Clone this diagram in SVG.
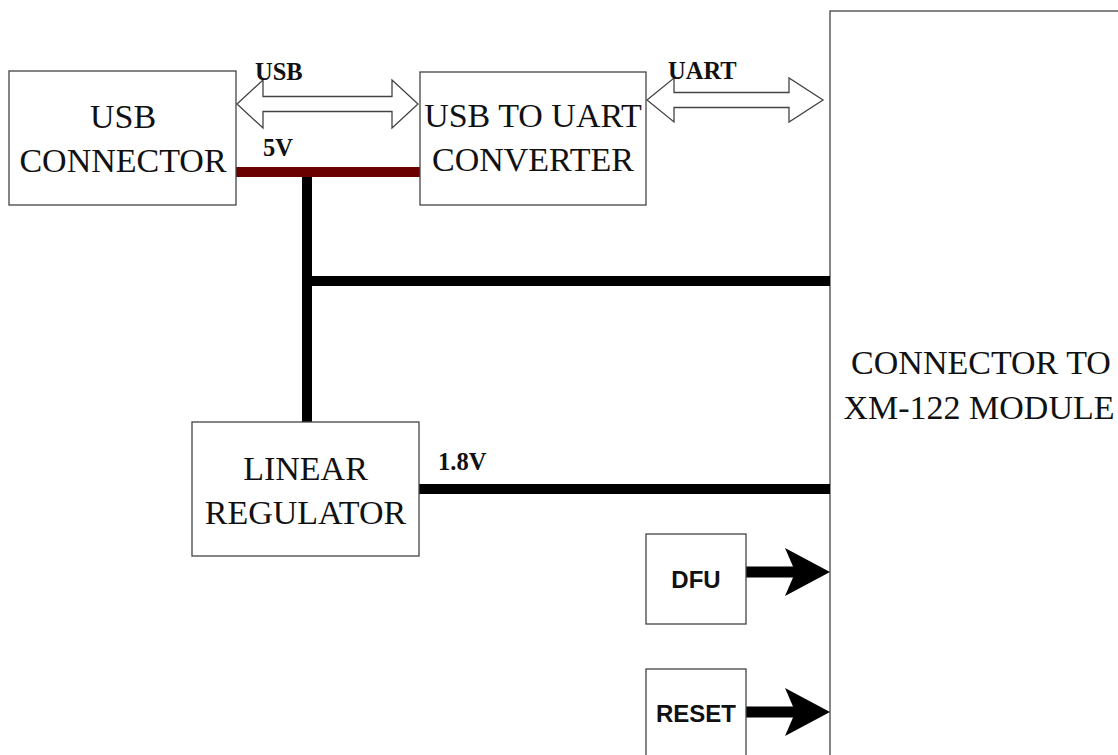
<svg xmlns="http://www.w3.org/2000/svg" width="1118" height="755" viewBox="0 0 1118 755">
<style>
.box{fill:#fff;stroke:#444;stroke-width:1.3}
.bt{font-family:"Liberation Serif",serif;font-size:34px;fill:#111;text-anchor:middle}
.lbl{font-family:"Liberation Serif",serif;font-size:24.5px;font-weight:bold;fill:#111}
.st{font-family:"Liberation Sans",sans-serif;font-size:24px;font-weight:bold;fill:#111;text-anchor:middle}
.dbl{fill:#fff;stroke:#444;stroke-width:1.3}
.pw{stroke:#000;stroke-width:10;fill:none}
</style>
<rect width="1118" height="755" fill="#fff"/>
<g id="module">
<rect class="box" x="830" y="11" width="320" height="800"/>
<text class="bt" x="981" y="374">CONNECTOR TO</text>
<text class="bt" x="979" y="419">XM-122 MODULE</text>
</g>
<g id="connectors">
<line x1="236" y1="172" x2="420" y2="172" stroke="#6b0000" stroke-width="10"/>
<line class="pw" x1="307" y1="177" x2="307" y2="422"/>
<line class="pw" x1="302" y1="281" x2="830" y2="281"/>
<line class="pw" x1="419" y1="489" x2="830" y2="489"/>
<path class="dbl" d="M237,104 L263,80 L263,96.5 L392,96.5 L392,80 L418,104 L392,128 L392,111.5 L263,111.5 L263,128 Z"/>
<path class="dbl" d="M647,100 L674,78 L674,92.5 L789,92.5 L789,78 L823,100 L789,122 L789,107.5 L674,107.5 L674,122 Z"/>
<path d="M746,566.5 L793,566.5 L785,548 L830,572 L785,596 L793,577.5 L746,577.5 Z" fill="#000"/>
<path d="M746,706.5 L793,706.5 L785,688 L830,712 L785,736 L793,717.5 L746,717.5 Z" fill="#000"/>
<text class="lbl" x="255" y="80">USB</text>
<text class="lbl" x="668" y="79">UART</text>
<text class="lbl" x="263" y="156">5V</text>
<text class="lbl" x="438" y="470">1.8V</text>
</g>
<g id="usb_connector">
<rect class="box" x="9" y="71" width="227" height="134"/>
<text class="bt" x="123" y="128">USB</text>
<text class="bt" x="123" y="172">CONNECTOR</text>
</g>
<g id="usb_uart">
<rect class="box" x="420" y="72" width="226" height="133"/>
<text class="bt" x="533" y="127">USB TO UART</text>
<text class="bt" x="533" y="171">CONVERTER</text>
</g>
<g id="regulator">
<rect class="box" x="192" y="422" width="227" height="134"/>
<text class="bt" x="305.5" y="480">LINEAR</text>
<text class="bt" x="305.5" y="524">REGULATOR</text>
</g>
<g id="dfu">
<rect class="box" x="646" y="534" width="100" height="90"/>
<text class="st" x="696" y="588">DFU</text>
</g>
<g id="reset">
<rect class="box" x="646" y="669" width="100" height="120"/>
<text class="st" x="696" y="722">RESET</text>
</g>
</svg>
